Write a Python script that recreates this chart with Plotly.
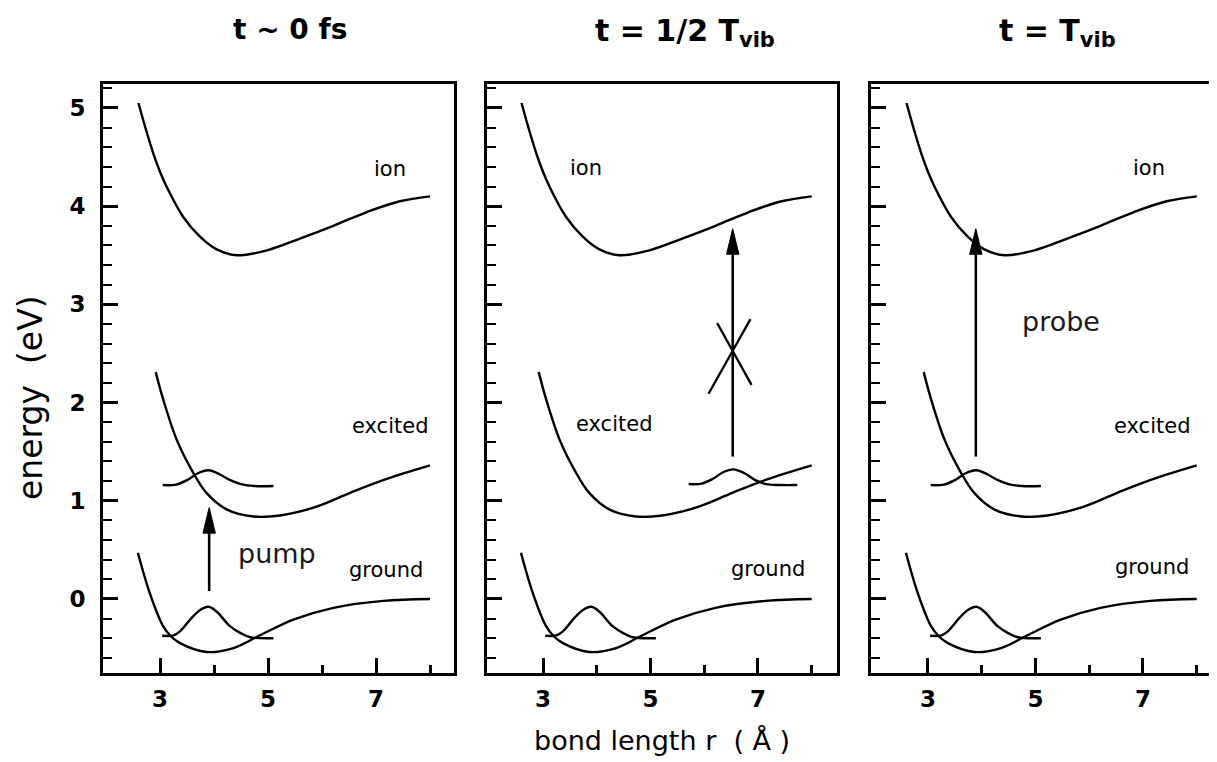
import plotly.graph_objects as go

# ---------------- data ----------------
# potential curves (bond length r in Å, energy in eV) - identical in all panels
ion_r = [2.60, 2.75, 2.88, 3.00, 3.12, 3.43, 3.74, 4.05, 4.42, 4.98, 5.59, 6.21, 6.83, 7.44, 8.0]
ion_E = [5.05, 4.76, 4.53, 4.35, 4.20, 3.89, 3.69, 3.56, 3.50, 3.55, 3.67, 3.80, 3.94, 4.05, 4.10]

exc_r = [2.92, 3.06, 3.31, 3.59, 3.86, 4.24, 4.73, 5.22, 5.90, 6.52, 7.13, 8.0]
exc_E = [2.31, 2.03, 1.62, 1.31, 1.08, 0.91, 0.84, 0.85, 0.94, 1.08, 1.21, 1.36]

gnd_r = [2.59, 2.81, 3.06, 3.20, 3.37, 3.86, 4.36, 4.85, 5.47, 6.21, 7.14, 8.0]
gnd_E = [0.47, 0.06, -0.28, -0.38, -0.45, -0.54, -0.50, -0.37, -0.21, -0.09, -0.02, 0.0]

# wave packets
gnd_pkt_r = [3.04, 3.25, 3.37, 3.59, 3.75, 3.90, 4.05, 4.30, 4.50, 4.67, 5.10]
gnd_pkt_E = [-0.375, -0.37, -0.33, -0.19, -0.11, -0.08, -0.13, -0.28, -0.35, -0.39, -0.40]

exc_pkt_r = [3.05, 3.30, 3.50, 3.70, 3.90, 4.10, 4.30, 4.50, 4.75, 5.10]      # panels 1 and 3
exc_pkt_E = [1.16, 1.165, 1.21, 1.28, 1.31, 1.27, 1.21, 1.17, 1.15, 1.15]

exc_pkt2_r = [5.71, 5.95, 6.15, 6.35, 6.54, 6.75, 6.95, 7.15, 7.40, 7.73]    # panel 2
exc_pkt2_E = [1.17, 1.175, 1.22, 1.29, 1.32, 1.28, 1.21, 1.17, 1.16, 1.16]

# vertical arrows: panel, r, tail energy, tip energy
arrow_panel = [1, 2, 3]
arrow_r = [3.91, 6.53, 3.89]
arrow_tail = [0.08, 1.45, 1.45]
arrow_tip = [0.93, 3.77, 3.77]

# the "X" crossing the forbidden probe (panel 2)
cross1_r = [6.24, 6.88]
cross1_E = [2.81, 2.18]
cross2_r = [6.86, 6.08]
cross2_E = [2.85, 2.09]

# curve labels: panel, text, r, E
label_panel = [1, 1, 1, 1, 2, 2, 2, 3, 3, 3, 3]
label_text = ["ion", "excited", "ground", "pump", "ion", "excited", "ground",
              "ion", "probe", "excited", "ground"]
label_r = [7.26, 7.26, 7.19, 5.16, 3.80, 4.32, 7.18, 7.11, 5.47, 7.17, 7.16]
label_E = [4.38, 1.76, 0.30, 0.46, 4.39, 1.78, 0.31, 4.39, 2.83, 1.76, 0.33]

titles = ["t ~ 0 fs", "t = 1/2 T<sub>vib</sub>", "t = T<sub>vib</sub>"]

x_major = [3, 5, 7]
x_minor = [4, 6, 8]
y_major = [0, 1, 2, 3, 4, 5]

# ---------------- figure ----------------
OFF = 8                          # page body margin of the browser
W, H = 1217 - OFF, 762 - OFF
FONT = "DejaVu Sans"
LW = 2.4


def px(x):
    return (x - OFF) / W


def py(y):
    return 1 - (y - OFF) / H


x_domains = [[px(103), px(454)], [px(487), px(837)], [px(871), 1.0]]
x_ranges = [[1.944, 8.444], [1.958, 8.47], [1.94, 8.377]]
y_domain = [py(673), py(84)]
y_range = [-0.754, 5.244]

fig = go.Figure()


def axn(p):
    return "" if p == 1 else str(p)


def line(p, xs, ys, width=LW, shape="spline"):
    fig.add_trace(go.Scatter(
        x=xs, y=ys, mode="lines", xaxis="x" + axn(p), yaxis="y" + axn(p),
        line=dict(color="black", width=width, shape=shape, smoothing=1.0),
        hoverinfo="skip", showlegend=False))


for p in (1, 2, 3):
    line(p, ion_r, ion_E)
    line(p, exc_r, exc_E)
    line(p, gnd_r, gnd_E)
    line(p, gnd_pkt_r, gnd_pkt_E)
    if p == 2:
        line(p, exc_pkt2_r, exc_pkt2_E)
    else:
        line(p, exc_pkt_r, exc_pkt_E)

line(2, cross1_r, cross1_E, width=2.3, shape="linear")
line(2, cross2_r, cross2_E, width=2.3, shape="linear")

# arrows (shaft + filled head)
HEAD_L = 0.26    # eV
HEAD_HW = 0.115  # Å
for p, r, t0, t1 in zip(arrow_panel, arrow_r, arrow_tail, arrow_tip):
    line(p, [r, r], [t0, t1 - HEAD_L * 0.5], width=2.6, shape="linear")
    fig.add_trace(go.Scatter(
        x=[r, r - HEAD_HW, r + HEAD_HW, r], y=[t1, t1 - HEAD_L, t1 - HEAD_L, t1],
        mode="lines", fill="toself", fillcolor="black",
        line=dict(color="black", width=1),
        xaxis="x" + axn(p), yaxis="y" + axn(p),
        hoverinfo="skip", showlegend=False))

annotations = []
for p, txt, r, e in zip(label_panel, label_text, label_r, label_E):
    big = txt in ("pump", "probe")
    annotations.append(dict(
        x=r, y=e, xref="x" + axn(p), yref="y" + axn(p), text=txt, showarrow=False,
        xanchor="center", yanchor="middle",
        font=dict(family=FONT, size=27 if big else 21, color="#1a1a1a" if big else "black")))

title_x = [290, 685, 1057]
title_y = [30, 33, 33]
title_size = [28, 30, 30]
for t, tx, ty, ts in zip(titles, title_x, title_y, title_size):
    annotations.append(dict(x=px(tx), y=py(ty), xref="paper", yref="paper", text=t,
                            showarrow=False, xanchor="center", yanchor="middle",
                            font=dict(family=FONT, size=ts, color="black", weight="bold")))

annotations.append(dict(x=px(30), y=py(398), xref="paper", yref="paper",
                        text="energy  (eV)", textangle=-90, showarrow=False,
                        xanchor="center", yanchor="middle",
                        font=dict(family=FONT, size=33, color="black")))
annotations.append(dict(x=px(662), y=py(740), xref="paper", yref="paper",
                        text="bond length r  ( Å )", showarrow=False,
                        xanchor="center", yanchor="middle",
                        font=dict(family=FONT, size=27, color="black")))

layout = dict(
    width=W, height=H, autosize=False,
    margin=dict(l=0, r=0, t=0, b=0, pad=0),
    paper_bgcolor="white", plot_bgcolor="white",
    showlegend=False, annotations=annotations,
)

for p in (1, 2, 3):
    n = axn(p)
    layout["xaxis" + n] = dict(
        domain=x_domains[p - 1], range=x_ranges[p - 1], anchor="y" + n,
        showgrid=False, zeroline=False, showline=True, linecolor="black", linewidth=3,
        mirror=True, tickmode="array", tickvals=x_major, ticktext=[str(v) for v in x_major],
        ticks="inside", ticklen=15, tickwidth=2.5, tickcolor="black",
        ticklabelstandoff=3, automargin=False,
        tickfont=dict(family=FONT, size=23, color="black", weight="bold"),
        minor=dict(tickmode="array", tickvals=x_minor, ticks="inside", ticklen=8,
                   tickwidth=2.5, tickcolor="black", showgrid=False),
    )
    layout["yaxis" + n] = dict(
        domain=y_domain, range=y_range, anchor="x" + n,
        showgrid=False, zeroline=False, showline=True, linecolor="black", linewidth=3,
        mirror=(p != 3), tickmode="array", tickvals=y_major, ticktext=[str(v) for v in y_major],
        ticks="inside", ticklen=15, tickwidth=2.5, tickcolor="black",
        showticklabels=(p == 1), ticklabelstandoff=10, automargin=False,
        tickfont=dict(family=FONT, size=23, color="black", weight="bold"),
        minor=dict(dtick=0.2, tick0=0, ticks="inside", ticklen=9,
                   tickwidth=2.2, tickcolor="black", showgrid=False),
    )

fig.update_layout(**layout)
fig.write_html("out.html")
